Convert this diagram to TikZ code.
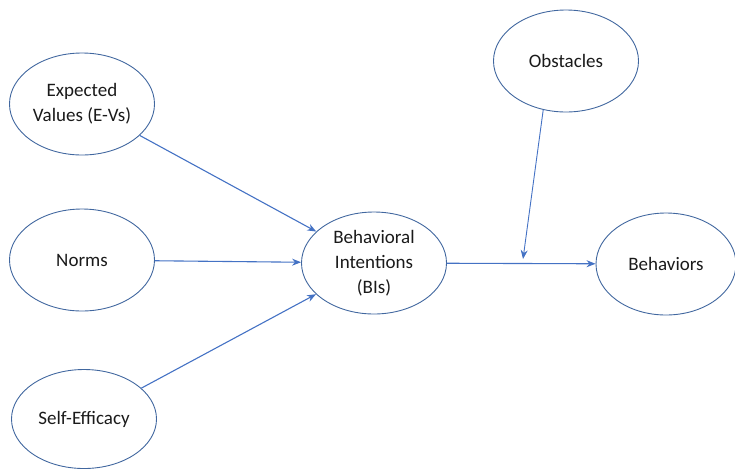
\documentclass[tikz,border=0pt]{standalone}
\usepackage{fontspec}
\setmainfont{Carlito}
\usetikzlibrary{shapes.geometric,arrows.meta}
\definecolor{edgeblue}{HTML}{41679F}
\definecolor{arrowblue}{HTML}{4472C4}
\definecolor{txt}{HTML}{1A1A1A}
\tikzset{
  oval/.style={ellipse, draw=edgeblue, line width=0.9pt, inner sep=0pt,
    minimum width=145pt, minimum height=102pt, align=center, text=txt,
    font=\fontsize{19}{25}\selectfont},
  link/.style={draw=arrowblue, line width=1.1pt, -{Stealth[length=9pt,width=7pt]}}
}
\begin{document}
\begin{tikzpicture}[x=1pt,y=-1pt]
\useasboundingbox (0,0) rectangle (735,469);
\node[oval] (ev) at (82,104) {Expected\\Values (E-Vs)};
\node[oval] (no) at (82,260) {Norms};
\node[oval, minimum height=99pt] (se) at (84,419) {Self-Efficacy};
\node[oval] (bi) at (374,263) {Behavioral\\Intentions\\(BIs)};
\node[oval] (ob) at (566,61) {Obstacles};
\node[oval, minimum width=140pt] (be) at (666,264) {Behaviors};
\coordinate (mid) at (523,259);
\draw[link] (ev) -- (bi);
\draw[link] (no) -- (bi);
\draw[link] (se) -- (bi);
\draw[link] (bi) -- (be);
\draw[link, line width=0.9pt] (ob.-115) -- (mid);
\end{tikzpicture}
\end{document}
